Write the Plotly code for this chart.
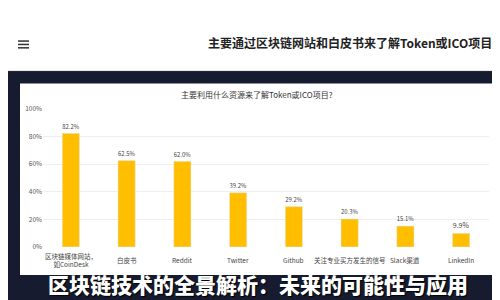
import plotly.graph_objects as go

categories = ["区块链媒体网站，<br>如CoinDesk", "白皮书", "Reddit", "Twitter", "Github",
              "关注专业买方发生的信号", "Slack渠道", "LinkedIn"]
values = [82.2, 62.5, 62.0, 39.2, 29.2, 20.3, 15.1, 9.9]
value_labels = ["82.2%", "62.5%", "62.0%", "39.2%", "29.2%", "20.3%", "15.1%", "9.9%"]
y_ticks = [0, 20, 40, 60, 80, 100]
y_tick_labels = ["0%", "20%", "40%", "60%", "80%", "100%"]

page_title = "主要通过区块链网站和白皮书来了解Token或ICO项目"
chart_title = "主要利用什么资源来了解Token或ICO项目?"
caption = "区块链技术的全景解析：未来的可能性与应用"

W, H = 500, 300
def py(px):
    return 1 - px / H
def px_(x):
    return x / W

fig = go.Figure()
fig.add_trace(go.Bar(
    x=list(range(len(categories))), y=values,
    marker_color="#FFBE00", width=0.31,
    text=value_labels, textposition="outside",
    textfont=dict(size=7, color="#444", family="Noto Sans CJK SC"),
    cliponaxis=False, hoverinfo="skip",
))

shapes = [
    dict(type="rect", xref="paper", yref="paper", x0=0, x1=1, y0=0, y1=py(59),
         fillcolor="#161b2f", line_width=0, layer="below"),
    dict(type="rect", xref="paper", yref="paper", x0=px_(12), x1=px_(487), y0=py(270), y1=py(72),
         fillcolor="white", line_width=0, layer="below"),
    dict(type="line", xref="paper", yref="paper", x0=0, x1=1, y0=py(58.5), y1=py(58.5),
         line=dict(color="#e8e8e8", width=1)),
]
# hamburger icon
for yy in [28, 31.5, 35]:
    shapes.append(dict(type="line", xref="paper", yref="paper", x0=px_(10), x1=px_(21),
                       y0=py(yy), y1=py(yy), line=dict(color="#333", width=1.5)))

annotations = [
    dict(text=page_title, xref="paper", yref="paper", x=px_(486), y=py(30), xanchor="right",
         yanchor="middle", showarrow=False,
         font=dict(size=12, color="#222", family="Noto Sans CJK SC", weight="bold")),
    dict(text=chart_title, xref="paper", yref="paper", x=px_(249), y=py(83), xanchor="center",
         yanchor="middle", showarrow=False,
         font=dict(size=8, color="#333", family="Noto Sans CJK SC")),
    dict(text=caption, xref="paper", yref="paper", x=0.5, y=py(279), xanchor="center",
         yanchor="middle", showarrow=False,
         font=dict(size=21, color="white", family="Noto Sans CJK SC", weight=900,
                   shadow="1px 1px 1px #000")),
]
for i, c in enumerate(categories):
    annotations.append(dict(text=c, xref="x", yref="paper", x=i, y=py(254), xanchor="center",
                            yanchor="middle", showarrow=False,
                            font=dict(size=6.5, color="#444", family="Noto Sans CJK SC")))

fig.update_layout(
    width=W, height=H, margin=dict(l=0, r=0, t=0, b=0),
    paper_bgcolor="white", plot_bgcolor="rgba(0,0,0,0)",
    showlegend=False, shapes=shapes, annotations=annotations,
    xaxis=dict(domain=[px_(35), px_(481)], range=[-0.5, 7.5], showticklabels=False,
               showgrid=False, zeroline=False, showline=False, ticks=""),
    yaxis=dict(domain=[py(241), py(98)], range=[0, 100], tickvals=y_ticks,
               ticktext=y_tick_labels, showgrid=True, gridcolor="#eeeeee", gridwidth=1,
               zeroline=False, showline=False, ticks="",
               tickfont=dict(size=6.5, color="#555", family="Noto Sans CJK SC")),
)
fig.write_html("out.html")
